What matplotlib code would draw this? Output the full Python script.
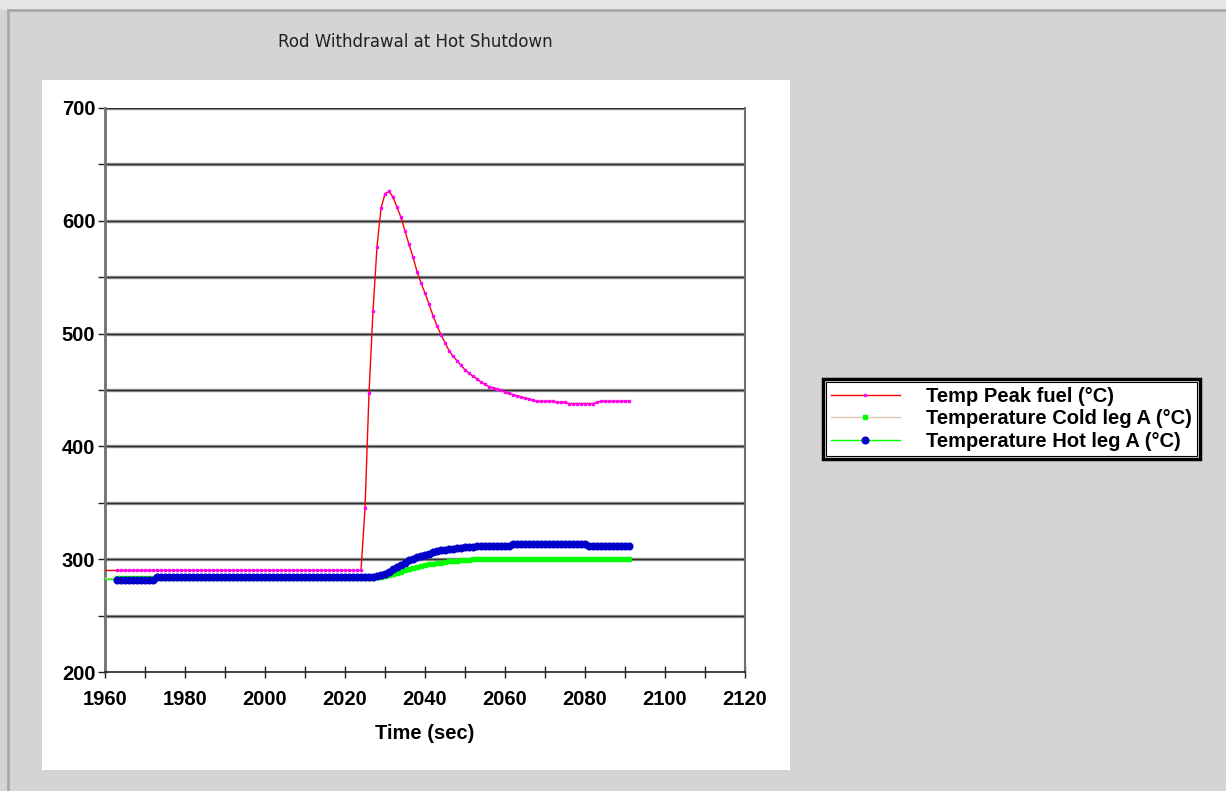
import matplotlib.pyplot as plt
from matplotlib.patches import Rectangle
from matplotlib.ticker import MultipleLocator
import numpy as np

# time samples, one per second
times = list(range(1960, 2092))

peak_fuel = (
    [290] * 65
    + [345, 447, 520, 577, 611, 624, 626, 621, 612, 603,
       591, 579, 568, 555, 545, 536, 526, 516, 507, 499,
       492, 485, 480, 476, 472, 468, 465, 462, 460, 457,
       455, 453, 452, 451, 450, 448, 447, 446, 445, 444,
       443, 442, 441, 440, 440, 440, 440, 440, 439, 439,
       439, 438, 438, 438, 438, 438, 438, 438, 439, 440,
       440, 440, 440, 440, 440, 440, 440]
)

cold_leg = (
    [283] * 68
    + [284, 284.5, 285, 286, 287, 288, 289, 290, 291, 292,
       293, 294, 295, 295.5, 296, 296.5, 297, 297.5, 298, 298,
       298.5, 299, 299, 299.5]
    + [300] * 40
)

hot_leg = (
    [282] * 13
    + [284] * 55
    + [285, 286, 287, 289, 291, 293, 295, 297, 299, 300,
       302, 303, 304, 305, 306, 307, 308, 308, 309, 309,
       310, 310, 311, 311, 311, 311.5, 311.5, 312, 312, 312,
       312, 312, 312, 312, 313.5, 313.5, 313.5, 313.5, 313.5, 313.5,
       313.5, 313.5, 313.5, 313.5, 313.5, 313.5, 313.5, 313.5, 313.5, 313.5,
       313.5, 313.5, 313.5]
    + [312] * 11
)

labels = ["Temp Peak fuel (\u00b0C)", "Temperature Cold leg A (\u00b0C)",
          "Temperature Hot leg A (\u00b0C)"]

W, H = 1226, 791
fig = plt.figure(figsize=(W / 100, H / 100), dpi=100)
fig.patch.set_facecolor("#d4d4d4")

# window frame + white chart panel (behind the axes)
fig.patches.append(Rectangle((0, 1 - 10 / H), 1, 10 / H, transform=fig.transFigure,
                             facecolor="#e6e6e6", edgecolor="none", zorder=-3))
fig.patches.append(Rectangle((8 / W, -0.01), 1.1, 1 - 10 / H + 0.01, transform=fig.transFigure,
                             facecolor="none", edgecolor="#a8a8a8", lw=2, zorder=-2))
fig.patches.append(Rectangle((42 / W, 1 - 770 / H), 748 / W, 690 / H, transform=fig.transFigure,
                             facecolor="white", edgecolor="none", zorder=-1))

ax = fig.add_axes([105 / W, 1 - 672 / H, 640 / W, 564 / H])
ax.set_zorder(1)
ax.set_facecolor("white")

t = np.array(times)
mk = slice(3, None)
l1, = ax.plot(t, peak_fuel, color="#ff0000", lw=1.0, marker="s", ms=1.7,
              mfc="#ff00ff", mec="#ff00ff", markevery=mk, zorder=3)
l2, = ax.plot(t, cold_leg, color="#e0c8a8", lw=1.0, marker="s", ms=3.0,
              mfc="#00ff00", mec="#00ff00", markevery=mk, zorder=4)
l3, = ax.plot(t, hot_leg, color="#00ff00", lw=1.0, marker="o", ms=4.8,
              mfc="#0000c8", mec="#0000c8", markevery=mk, zorder=5)

ax.set_xlim(1960, 2120)
ax.set_ylim(200, 700)
ax.xaxis.set_major_locator(MultipleLocator(20))
ax.xaxis.set_minor_locator(MultipleLocator(10))
ax.yaxis.set_major_locator(MultipleLocator(100))
ax.yaxis.set_minor_locator(MultipleLocator(50))

for y in range(250, 701, 50):
    ax.axhline(y, color="#888888", lw=2.4, zorder=1)
    ax.axhline(y, color="#303030", lw=0.8, zorder=1)

ax.tick_params(axis="x", which="both", direction="inout", length=8, width=1,
               color="#202020", pad=9)
ax.tick_params(axis="y", which="both", direction="out", length=5, width=1,
               color="#202020", pad=2)
for lab in ax.get_xticklabels() + ax.get_yticklabels():
    lab.set_fontweight("bold")
    lab.set_fontsize(14.5)
    lab.set_family("Liberation Sans")

ax.spines["top"].set_visible(False)
ax.spines["left"].set_color("#707070")
ax.spines["left"].set_linewidth(2)
ax.spines["right"].set_color("#707070")
ax.spines["right"].set_linewidth(1.5)
ax.spines["bottom"].set_color("#202020")
ax.spines["bottom"].set_linewidth(1.2)

ax.set_xlabel("Time (sec)", fontsize=14.5, fontweight="bold",
              family="Liberation Sans", labelpad=11)

fig.text(415 / W, 1 - 42 / H, "Rod Withdrawal at Hot Shutdown", ha="center",
         va="center", fontsize=12, family="DejaVu Sans", color="#202020")

leg = fig.legend([l1, l2, l3], labels, loc="center left",
                 bbox_to_anchor=(823 / W, 1 - 419 / H),
                 prop={"family": "Liberation Sans", "weight": "bold", "size": 14.5},
                 frameon=True, fancybox=False, framealpha=1, edgecolor="black",
                 handlelength=3.4, handletextpad=1.3, labelspacing=0.18,
                 borderpad=0.4, borderaxespad=0, markerscale=1.0)
leg.get_frame().set_linewidth(2.5)
leg.set_zorder(10)

fig.canvas.draw()
bb = leg.get_window_extent().transformed(fig.transFigure.inverted())
fig.patches.append(Rectangle((bb.x0 + 3 / W, bb.y0 + 3 / H), bb.width - 6 / W,
                             bb.height - 6 / H, transform=fig.transFigure,
                             facecolor="none", edgecolor="black", lw=0.8, zorder=11))

fig.savefig("out.png", dpi=100, facecolor=fig.get_facecolor())
